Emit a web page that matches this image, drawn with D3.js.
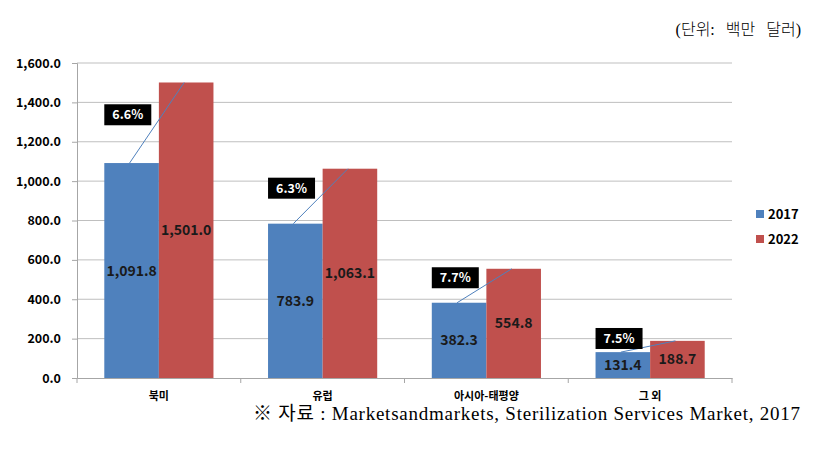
<!DOCTYPE html>
<html>
<head>
<meta charset="utf-8">
<script src="https://cdnjs.cloudflare.com/ajax/libs/d3/7.8.5/d3.min.js"></script>
<style>
  body { margin: 0; background: #fff; }
  svg { display: block; }
</style>
</head>
<body>
<svg id="chart" width="838" height="455"></svg>
<script>
// data
var regions = ["북미", "유럽", "아시아-태평양", "그 외"];
var years = ["2017", "2022"];
var values2017 = [1091.8, 783.9, 382.3, 131.4];
var values2022 = [1501.0, 1063.1, 554.8, 188.7];
var growth = ["6.6%", "6.3%", "7.7%", "7.5%"];
var yTicks = [0, 200, 400, 600, 800, 1000, 1200, 1400, 1600];

var colors = ["#4f81bd", "#c0504d"];
var sans = "'Noto Sans CJK KR', 'Noto Sans', sans-serif";
var serif = "'Liberation Serif', 'DejaVu Serif', 'Noto Sans CJK KR', serif";

var svg = d3.select("#chart");
var plotL = 77, plotR = 732, plotT = 63, plotB = 378;

var x = d3.scaleBand().domain(regions).range([plotL, plotR]);
var inner = d3.scaleBand().domain(years).range([0, x.bandwidth()]).paddingOuter(0.5);
var y = d3.scaleLinear().domain([0, 1600]).range([plotB, plotT]);
var fmt = d3.format(",.1f");

// gridlines
svg.append("g")
  .selectAll("line")
  .data(yTicks.slice(1))
  .enter().append("line")
    .attr("x1", plotL).attr("x2", plotR)
    .attr("y1", function(d) { return y(d); })
    .attr("y2", function(d) { return y(d); })
    .attr("stroke", "#bfbfbf").attr("stroke-width", 1);

// y axis
var yAxis = svg.append("g")
  .attr("transform", "translate(" + plotL + ",0)")
  .call(d3.axisLeft(y).tickValues(yTicks).tickFormat(fmt).tickSize(5).tickPadding(11));
yAxis.selectAll("line, path").attr("stroke", "#a6a6a6");
yAxis.selectAll("text")
  .attr("font-family", sans).attr("font-weight", "bold")
  .attr("font-size", 12.5).attr("fill", "#000");

// x axis
var xAxis = svg.append("g")
  .attr("transform", "translate(0," + plotB + ")")
  .call(d3.axisBottom(x).tickSize(0).tickPadding(14));
xAxis.select("path").attr("stroke", "#a6a6a6");
xAxis.selectAll("text")
  .attr("font-family", sans).attr("font-weight", "bold")
  .attr("font-size", 11).attr("fill", "#000");
xAxis.selectAll(".sep")
  .data(d3.range(regions.length + 1))
  .enter().append("line")
    .attr("x1", function(i) { return plotL + i * x.step(); })
    .attr("x2", function(i) { return plotL + i * x.step(); })
    .attr("y1", 0).attr("y2", 5)
    .attr("stroke", "#a6a6a6");

var series = [values2017, values2022];

// bars
var groups = svg.append("g")
  .selectAll("g")
  .data(regions)
  .enter().append("g")
    .attr("transform", function(d) { return "translate(" + x(d) + ",0)"; });

groups.selectAll("rect")
  .data(function(d, i) { return years.map(function(yr, k) { return { year: yr, k: k, v: series[k][i] }; }); })
  .enter().append("rect")
    .attr("x", function(d) { return inner(d.year); })
    .attr("width", inner.bandwidth())
    .attr("y", function(d) { return y(d.v); })
    .attr("height", function(d) { return plotB - y(d.v); })
    .attr("fill", function(d) { return colors[d.k]; });

groups.selectAll(".val")
  .data(function(d, i) { return years.map(function(yr, k) { return { year: yr, v: series[k][i] }; }); })
  .enter().append("text")
    .attr("x", function(d) { return inner(d.year) + inner.bandwidth() / 2; })
    .attr("y", function(d) { return (y(d.v) + plotB) / 2; })
    .attr("dy", "0.36em")
    .attr("text-anchor", "middle")
    .attr("font-family", sans).attr("font-weight", "bold")
    .attr("font-size", 14).attr("fill", "#1a1a1a")
    .text(function(d) { return fmt(d.v); });

// growth lines and labels
groups.each(function(d, i) {
  var g = d3.select(this);
  var x1 = inner("2017") + inner.bandwidth() / 2 - 2;
  var x2 = inner("2022") + inner.bandwidth() / 2 - 2;
  var y1 = y(values2017[i]), y2 = y(values2022[i]);
  g.append("line")
    .attr("x1", x1).attr("y1", y1).attr("x2", x2).attr("y2", y2)
    .attr("stroke", "#4f81bd").attr("stroke-width", 1);
  var cy = (y1 + y2) / 2 - 8;
  g.append("rect")
    .attr("x", inner("2017")).attr("y", cy - 10.5)
    .attr("width", 47).attr("height", 21)
    .attr("fill", "#000");
  g.append("text")
    .attr("x", inner("2017") + 23.5).attr("y", cy)
    .attr("dy", "0.36em").attr("text-anchor", "middle")
    .attr("font-family", sans).attr("font-weight", "bold")
    .attr("font-size", 12.5).attr("fill", "#fff")
    .text(growth[i]);
});

// legend
var legend = svg.append("g")
  .selectAll("g")
  .data(years)
  .enter().append("g")
    .attr("transform", function(d, i) { return "translate(756," + (214 + i * 25) + ")"; });
legend.append("rect")
  .attr("x", 0).attr("y", -4).attr("width", 8).attr("height", 8)
  .attr("fill", function(d, i) { return colors[i]; });
legend.append("text")
  .attr("x", 12).attr("dy", "0.36em")
  .attr("font-family", sans).attr("font-weight", "bold")
  .attr("font-size", 13).attr("fill", "#000")
  .text(function(d) { return d; });

// unit and source
svg.append("text")
  .attr("x", 801).attr("y", 29).attr("dy", "0.36em")
  .attr("text-anchor", "end")
  .attr("font-family", serif).attr("font-size", 16)
  .attr("font-weight", 300)
  .style("word-spacing", "7px")
  .text("(단위: 백만 달러)");

svg.append("text")
  .attr("x", 253).attr("y", 413).attr("dy", "0.36em")
  .attr("font-family", serif).attr("font-size", 19)
  .attr("textLength", 547).attr("lengthAdjust", "spacing")
  .text("※ 자료 : Marketsandmarkets, Sterilization Services Market, 2017");
</script>
</body>
</html>
